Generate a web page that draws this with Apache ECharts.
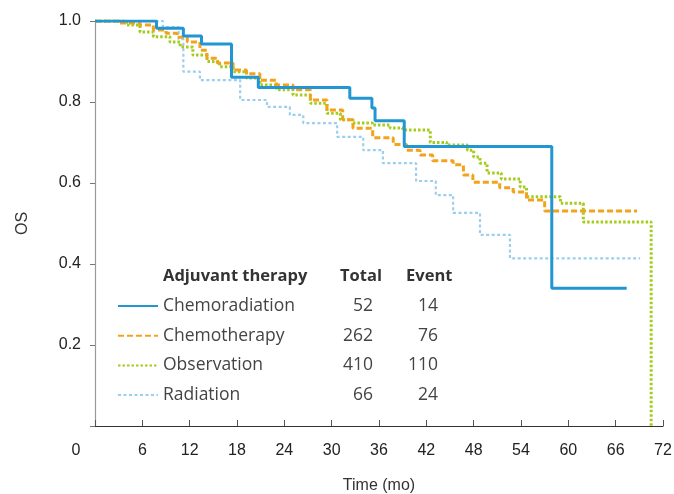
<!DOCTYPE html>
<html>
<head>
<meta charset="utf-8">
<script src="https://cdn.jsdelivr.net/npm/echarts@6/dist/echarts.min.js"></script>
<style>html,body{margin:0;padding:0;background:#fff}#c{width:674px;height:494px}</style>
</head>
<body>
<div id="c"></div>
<script>
// ---- data ----
var groupNames = ['Chemoradiation', 'Chemotherapy', 'Observation', 'Radiation'];
var groupTotals = [52, 262, 410, 66];
var groupEvents = [14, 76, 110, 24];
var xTicks = [0, 6, 12, 18, 24, 30, 36, 42, 48, 54, 60, 66, 72];
var yTicks = [0, 0.2, 0.4, 0.6, 0.8, 1.0];

var chemoradTimes = [0, 7.8, 11.2, 13.5, 17.3, 20.7, 32.3, 35.1, 35.5, 39.2, 57.9, 67.4];
var chemoradSurv  = [1.0, 0.982, 0.963, 0.943, 0.861, 0.836, 0.809, 0.785, 0.754, 0.690, 0.340, 0.340];

var chemoTimes = [0, 3, 5.7, 7.4, 9, 10.4, 11.7, 13.3, 14.2, 15.5, 17.5, 19.2, 20.9, 23, 25.1, 27.3, 29.4, 31.4, 32.7, 35.2, 37.8, 39.5, 41.2, 42.8, 45.4, 46.7, 47.9, 51.3, 53, 54.7, 57, 68.7];
var chemoSurv  = [1.0, 0.995, 0.99, 0.978, 0.97, 0.96, 0.948, 0.928, 0.908, 0.896, 0.879, 0.87, 0.854, 0.842, 0.83, 0.805, 0.78, 0.756, 0.735, 0.712, 0.695, 0.681, 0.669, 0.655, 0.645, 0.62, 0.602, 0.588, 0.578, 0.558, 0.531, 0.531];

var obsTimes = [0, 4, 5.7, 7.4, 9.5, 10.8, 12.4, 14.2, 15.8, 17.5, 19.2, 20.9, 23, 25.1, 27.3, 29.4, 31.1, 32.7, 35.2, 37.4, 39, 42.5, 44.6, 47.2, 48, 48.8, 49.7, 51.5, 53.9, 54.7, 59, 61.9, 70.5];
var obsSurv  = [1.0, 0.99, 0.973, 0.961, 0.948, 0.936, 0.916, 0.9, 0.887, 0.875, 0.859, 0.842, 0.83, 0.817, 0.797, 0.772, 0.756, 0.748, 0.743, 0.736, 0.731, 0.70, 0.694, 0.681, 0.664, 0.649, 0.625, 0.61, 0.59, 0.566, 0.55, 0.504, 0.0];

var radTimes = [0, 8.6, 10.6, 11.2, 13.3, 18.4, 21.8, 24.7, 26.4, 30.7, 34.0, 36.5, 40.7, 43.2, 45.4, 48.8, 52.6, 69.1];
var radSurv  = [1.0, 0.985, 0.955, 0.875, 0.854, 0.805, 0.788, 0.768, 0.748, 0.714, 0.681, 0.649, 0.605, 0.570, 0.526, 0.472, 0.414, 0.414];

// ---- build step paths ----
function stepPoints(times, surv) {
  var pts = [[times[0], surv[0]]];
  for (var i = 1; i < times.length; i++) {
    pts.push([times[i], surv[i - 1]]);
    pts.push([times[i], surv[i]]);
  }
  return pts;
}

var colors = ['#2196d3', '#f3a21c', '#a5cc1c', '#9ccfee'];
var lineStyles = [
  {width: 3, type: 'solid'},
  {width: 3, type: [6, 3]},
  {width: 3, type: [2.5, 2]},
  {width: 2.2, type: [3, 2.5]}
];
var seriesData = [
  stepPoints(chemoradTimes, chemoradSurv),
  stepPoints(chemoTimes, chemoSurv),
  stepPoints(obsTimes, obsSurv),
  stepPoints(radTimes, radSurv)
];

var series = groupNames.map(function (n, i) {
  return {
    name: n,
    type: 'line',
    data: seriesData[i],
    showSymbol: false,
    symbol: 'none',
    z: 4 - i + 2,
    lineStyle: {color: colors[i], width: lineStyles[i].width, type: lineStyles[i].type},
    itemStyle: {color: colors[i]},
    animation: false
  };
});

var chart = echarts.init(document.getElementById('c'));
var FONT = 'Liberation Sans';
var LFONT = 'Open Sans';
var LSIZE = 17.5;
chart.setOption({
  animation: false,
  grid: {left: 95, right: 11, top: 21, bottom: 68, outerBoundsMode: 'none', containLabel: false},
  title: {
    left: 158, top: 263,
    text: '{a|Adjuvant therapy}{b|Total}{c|Event}',
    textStyle: {
      rich: {
        a: {fontFamily: LFONT, fontWeight: 'bold', fontSize: 16.5, color: '#333', width: 177},
        b: {fontFamily: LFONT, fontWeight: 'bold', fontSize: 16.5, color: '#333', width: 66},
        c: {fontFamily: LFONT, fontWeight: 'bold', fontSize: 16.5, color: '#333'}
      }
    }
  },
  legend: {
    orient: 'vertical',
    left: 112, top: 292,
    itemWidth: 40, itemHeight: 14, itemGap: 11.7,
    itemStyle: {opacity: 0},
    data: groupNames,
    formatter: function (name) {
      var i = groupNames.indexOf(name);
      return '{n|' + name + '}{t|' + groupTotals[i] + '}{e|' + groupEvents[i] + '}';
    },
    textStyle: {
      rich: {
        n: {fontFamily: LFONT, fontSize: LSIZE, color: '#444', width: 170},
        t: {fontFamily: LFONT, fontSize: LSIZE, color: '#444', width: 40, align: 'right'},
        e: {fontFamily: LFONT, fontSize: LSIZE, color: '#444', width: 65, align: 'right'}
      }
    }
  },
  xAxis: {
    type: 'value', min: 0, max: 72, interval: 6,
    name: 'Time (mo)', nameLocation: 'middle', nameGap: 52,
    nameTextStyle: {fontFamily: FONT, fontSize: 16, color: '#333'},
    axisLine: {show: true, onZero: false, lineStyle: {color: '#333', width: 1.2}},
    axisTick: {show: true, inside: true, length: 6, lineStyle: {color: '#555'}},
    axisLabel: {
      fontFamily: FONT, fontSize: 16, color: '#222', margin: 17,
      formatter: function (v) {
        if (xTicks.indexOf(v) < 0) return '';
        return v === 0 ? '{o|0}' : String(v);
      },
      rich: {o: {fontFamily: FONT, fontSize: 16, color: '#222', padding: [0, 38, 0, 0]}}
    },
    splitLine: {show: false}
  },
  yAxis: {
    type: 'value', min: 0, max: 1, interval: 0.2,
    name: 'OS', nameLocation: 'middle', nameGap: 64, nameRotate: 90,
    nameTextStyle: {fontFamily: FONT, fontSize: 16, color: '#333'},
    axisLine: {show: true, lineStyle: {color: '#999', width: 1.2}},
    axisTick: {show: true, length: 5, lineStyle: {color: '#777'}},
    axisLabel: {
      fontFamily: FONT, fontSize: 16, color: '#222', margin: 14,
      formatter: function (v) {
        if (v === 0) return '';
        return v.toFixed(1);
      }
    },
    splitLine: {show: false}
  },
  series: series
});
</script>
</body>
</html>
